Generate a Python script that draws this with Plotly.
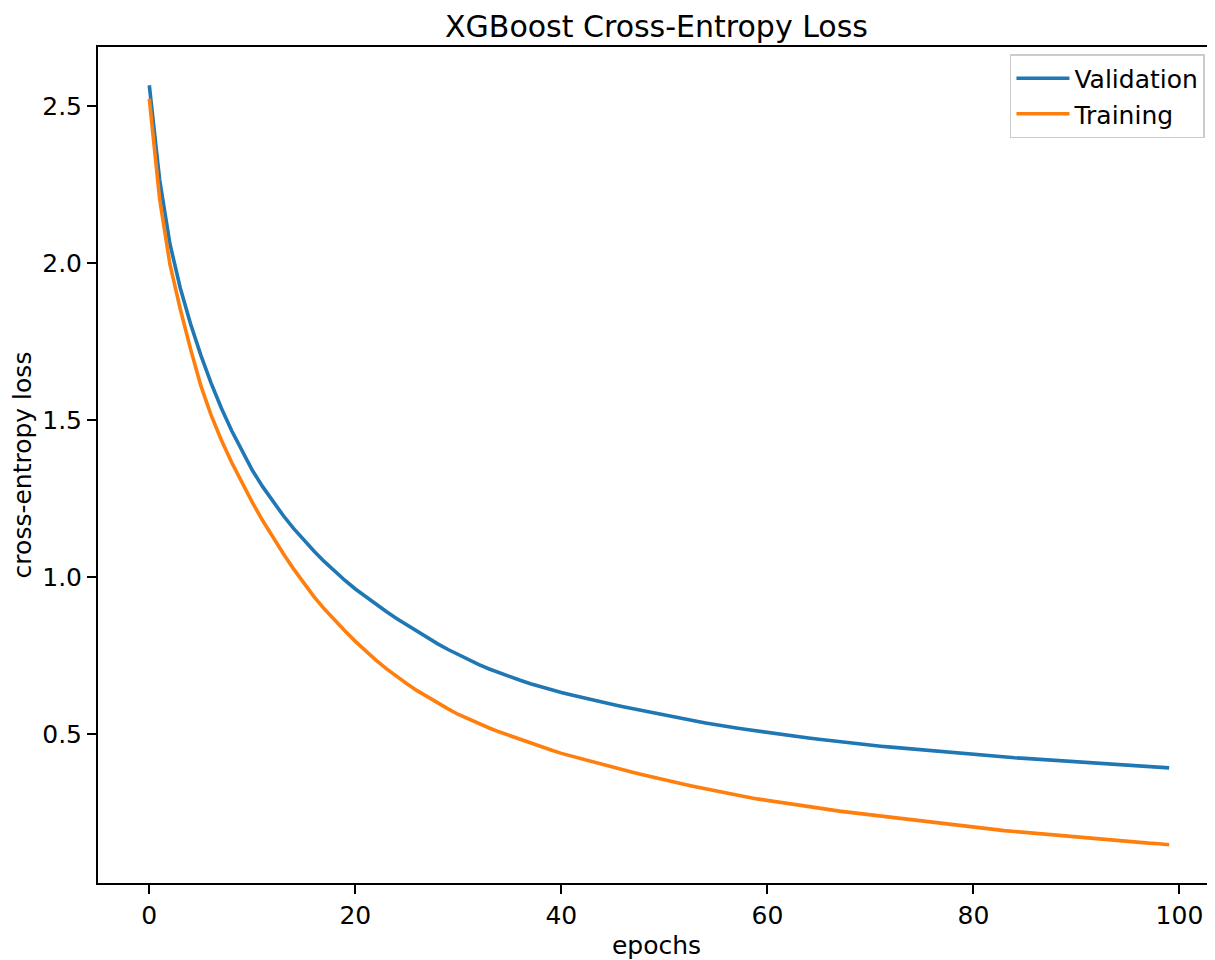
import plotly.graph_objects as go

epochs = list(range(100))

validation = [
    2.567, 2.267, 2.062, 1.922, 1.807, 1.707, 1.618, 1.538, 1.466, 1.400,
    1.340, 1.288, 1.240, 1.196, 1.155, 1.117, 1.082, 1.049, 1.018, 0.989,
    0.962, 0.937, 0.913, 0.890, 0.868, 0.847, 0.826, 0.806, 0.787, 0.769,
    0.752, 0.736, 0.721, 0.707, 0.694, 0.682, 0.671, 0.660, 0.650, 0.641,
    0.632, 0.624, 0.616, 0.608, 0.601, 0.594, 0.587, 0.580, 0.573, 0.566,
    0.559, 0.553, 0.547, 0.541, 0.535, 0.529, 0.524, 0.519, 0.514, 0.509,
    0.504, 0.499, 0.495, 0.491, 0.487, 0.483, 0.479, 0.475, 0.471, 0.467,
    0.464, 0.461, 0.458, 0.455, 0.452, 0.449, 0.446, 0.443, 0.440, 0.437,
    0.434, 0.432, 0.429, 0.427, 0.424, 0.422, 0.420, 0.417, 0.415, 0.413,
    0.411, 0.409, 0.407, 0.405, 0.403, 0.401, 0.398, 0.396, 0.394, 0.392,
]

training = [
    2.524, 2.205, 1.997, 1.855, 1.727, 1.610, 1.516, 1.436, 1.365, 1.299,
    1.238, 1.180, 1.126, 1.075, 1.026, 0.980, 0.937, 0.898, 0.862, 0.828,
    0.795, 0.764, 0.735, 0.708, 0.683, 0.660, 0.638, 0.618, 0.599, 0.580,
    0.562, 0.547, 0.533, 0.519, 0.506, 0.494, 0.482, 0.471, 0.460, 0.449,
    0.438, 0.429, 0.420, 0.411, 0.402, 0.393, 0.385, 0.377, 0.369, 0.361,
    0.353, 0.346, 0.339, 0.332, 0.325, 0.318, 0.311, 0.305, 0.299, 0.293,
    0.288, 0.282, 0.277, 0.272, 0.267, 0.263, 0.258, 0.254, 0.250, 0.246,
    0.242, 0.238, 0.234, 0.230, 0.226, 0.222, 0.218, 0.214, 0.210, 0.206,
    0.202, 0.199, 0.195, 0.192, 0.189, 0.186, 0.183, 0.180, 0.177, 0.174,
    0.171, 0.168, 0.166, 0.163, 0.160, 0.158, 0.155, 0.152, 0.150, 0.147,
]

x_ticks = [0, 20, 40, 60, 80, 100]
y_ticks = [0.5, 1.0, 1.5, 2.0, 2.5]
y_tick_labels = ["0.5", "1.0", "1.5", "2.0", "2.5"]

FONT = "DejaVu Sans"

fig = go.Figure()
fig.add_trace(go.Scatter(x=epochs, y=validation, mode="lines", name="Validation",
                         line=dict(color="#1f77b4", width=3.6)))
fig.add_trace(go.Scatter(x=epochs, y=training, mode="lines", name="Training",
                         line=dict(color="#ff7f0e", width=3.6)))

# page body has an 8px margin, so the figure is sized/offset to compensate
fig.update_layout(
    width=1207, height=952,
    margin=dict(l=90, r=0, t=39, b=77),
    paper_bgcolor="white", plot_bgcolor="white",
    font=dict(family=FONT, size=25, color="black"),
    title=dict(text="XGBoost Cross-Entropy Loss", x=0.5, xref="paper", xanchor="center",
               y=1 - 18 / 952, yref="container", yanchor="middle",
               font=dict(family=FONT, size=30, color="black")),
    legend=dict(x=0.991, y=0.9916, xanchor="right", yanchor="top",
                bgcolor="rgba(255,255,255,0.8)", bordercolor="#cccccc", borderwidth=1.5,
                itemwidth=53,
                font=dict(family=FONT, size=25, color="black")),
    showlegend=True,
)

fig.update_xaxes(
    range=[-4.98, 103.45], tickvals=x_ticks, ticks="outside", ticklen=9, tickwidth=2,
    tickcolor="black", showline=True, linecolor="black", linewidth=2, mirror=True,
    showgrid=False, zeroline=False,
    title=dict(text="epochs", standoff=12, font=dict(family=FONT, size=25, color="black")),
    tickfont=dict(family=FONT, size=25, color="black"),
)
fig.update_yaxes(
    range=[0.025, 2.689], tickvals=y_ticks, ticktext=y_tick_labels, ticks="outside",
    ticklen=9, tickwidth=2, tickcolor="black", showline=True, linecolor="black",
    linewidth=2, mirror=False, showgrid=False, zeroline=False,
    title=dict(text="cross-entropy loss", standoff=10, font=dict(family=FONT, size=25, color="black")),
    tickfont=dict(family=FONT, size=25, color="black"),
)

fig.write_html("out.html")
